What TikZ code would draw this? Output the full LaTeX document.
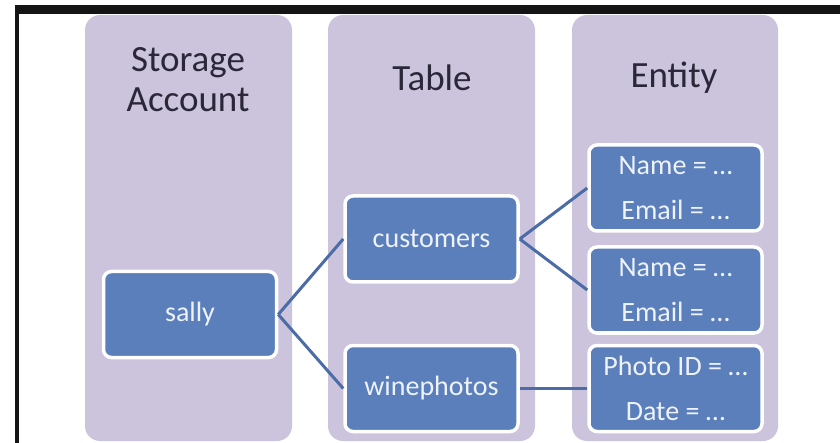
\documentclass[tikz,border=0pt]{standalone}
\usepackage{fontspec}
\setmainfont{Carlito}
\definecolor{lav}{HTML}{CCC4DC}
\definecolor{boxblue}{HTML}{5A7FBB}
\definecolor{linkblue}{HTML}{4B6CA6}
\definecolor{titletext}{HTML}{2A2838}
\definecolor{boxtext}{HTML}{EEF2FA}
\begin{document}
\begin{tikzpicture}[x=1pt,y=-1pt,
  column/.style={fill=lav, rounded corners=15pt},
  title/.style={text=titletext, font=\fontsize{37}{40}\selectfont, align=center, inner sep=0pt},
  item/.style={fill=boxblue, draw=white, line width=3.5pt, rounded corners=8pt,
    minimum width=173pt, minimum height=86pt, inner sep=0pt,
    text=boxtext, font=\fontsize{28}{45}\selectfont, align=center},
  link/.style={draw=linkblue, line width=3pt}]
\useasboundingbox (0,0) rectangle (840,443);
\fill[white] (0,0) rectangle (840,443);
% frame
\fill[black!92] (15,5) rectangle (840,14);
\fill[black!92] (15,5) rectangle (19,443);
% columns
\fill[column] (85,15) rectangle (292,441);
\fill[column] (328,15) rectangle (535,441);
\fill[column] (572,15) rectangle (778,441);
% titles
\node[title] (tSA) at (188,80) {Storage\\[-0.1pt]Account};
\node[title] (tT) at (432,78) {Table};
\node[title] (tE) at (674,78) {Entity};
% boxes
\node[item] (sally) at (190,314.5) {sally};
\node[item] (cust) at (431.5,239) {customers};
\node[item] (wine) at (431.5,388.5) {winephotos};
\node[item] (e1) at (675.5,188) {Name = \dots\\Email = \dots};
\node[item] (e2) at (675.5,290) {Name = \dots\\Email = \dots};
\node[item] (e3) at (675.5,388.5) {Photo ID = \dots\\Date = \dots};
% links
\draw[link] (sally.east) -- (cust.west);
\draw[link] (sally.east) -- (wine.west);
\draw[link] (cust.east) -- (e1.west);
\draw[link] (cust.east) -- (e2.west);
\draw[link] (wine.east) -- (e3.west);
\end{tikzpicture}
\end{document}
